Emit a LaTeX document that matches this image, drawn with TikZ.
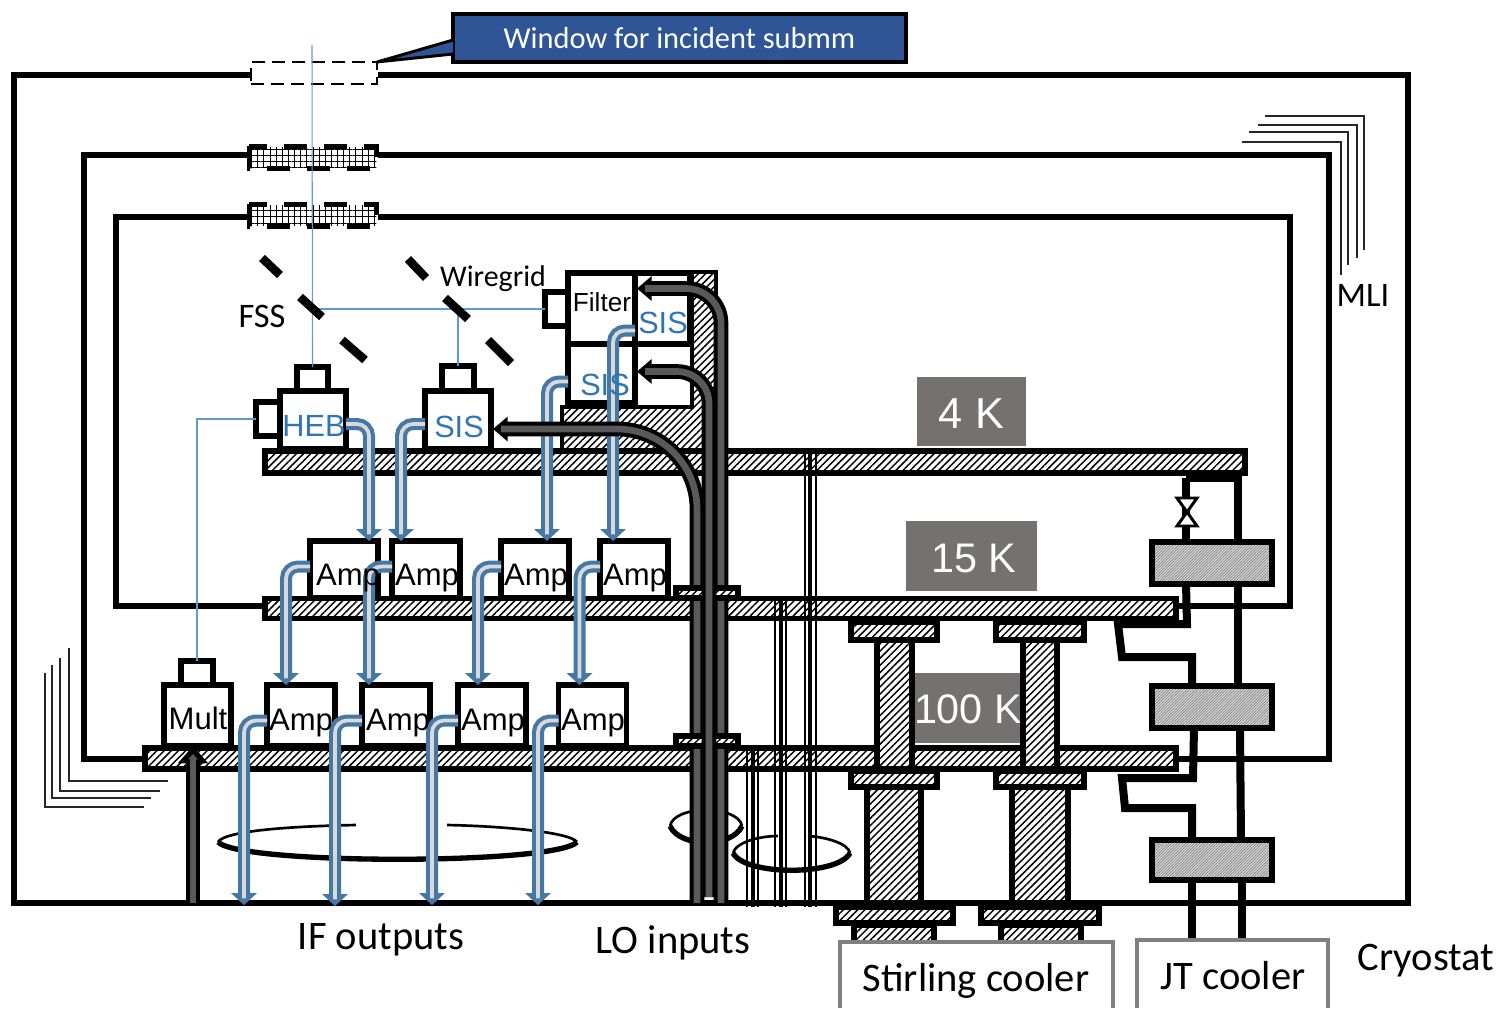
\documentclass[tikz,border=0pt]{standalone}
\usepackage{xcolor}
\usepackage{fontspec}
\setmainfont{Carlito}
\newfontfamily\arialfont{Liberation Sans}
\usetikzlibrary{arrows.meta, calc, patterns.meta}
\definecolor{beamblue}{RGB}{91,155,213}
\definecolor{sigblue}{RGB}{46,117,182}
\definecolor{ifblue}{RGB}{70,120,165}
\definecolor{ifgray}{RGB}{217,217,217}
\definecolor{lodark}{RGB}{89,89,89}
\definecolor{tempgray}{RGB}{118,113,113}
\definecolor{boxgray}{RGB}{128,128,128}
\definecolor{callblue}{RGB}{47,85,151}
\tikzset{
  hatch/.style={draw=black, line width=4.3pt, preaction={fill=white}, pattern={Lines[angle=45,distance=3.8pt,line width=1.1pt]}},
  plate/.style={rectangle, hatch, inner sep=0pt, outer sep=0pt},
  flange/.style={draw=black, line width=3.8pt, preaction={fill=white}, pattern={Lines[angle=45,distance=3.8pt,line width=1.1pt]}},
  hxbox/.style={rectangle, draw=black, line width=4.3pt, inner sep=0pt, outer sep=0pt,
    preaction={fill=gray!30}, pattern={Lines[angle=45,distance=1.5pt,line width=.5pt]}, pattern color=black!50,
    minimum width=90pt},
  box/.style={rectangle, draw=black, fill=white, line width=4.3pt, inner sep=0pt, outer sep=0pt},
  shield/.style={draw=black, line width=4.2pt},
  mli/.style={draw=black!85, line width=1.2pt},
  mirror/.style={draw=black, line width=6.4pt},
  beam/.style={draw=beamblue, line width=.8pt},
  pipe/.style={draw=black, line width=6pt},
  ifouter/.style={draw=ifblue, line width=9pt, rounded corners=9pt, -{Triangle[length=9pt,width=19pt]}},
  ifinner/.style={draw=ifgray, line width=2.8pt, rounded corners=9pt, shorten >=5pt},
  loouter/.style={draw=black, line width=11pt, -{Triangle[length=11pt,width=18pt]}},
  loinner/.style={draw=lodark, line width=5pt, shorten >=6pt},
  wire/.style={draw=black, line width=1.5pt},
  wirec/.style={draw=black, line width=3pt},
  tiethin/.style={draw=black, line width=2pt},
  tiethick/.style={draw=black, line width=4pt},
  amptext/.style={font=\arialfont\fontsize{23.3}{26}\selectfont, inner sep=0pt},
  sistext/.style={font=\arialfont\fontsize{23}{26}\selectfont, text=sigblue, inner sep=0pt},
  tempbox/.style={rectangle, fill=tempgray, inner sep=0pt, outer sep=0pt},
  temptext/.style={text=white, inner sep=0pt, font=\arialfont\fontsize{31}{34}\selectfont},
  bigtext/.style={font=\fontsize{30.4}{34}\selectfont, inner sep=0pt},
  midtext/.style={font=\fontsize{25.8}{30}\selectfont, inner sep=0pt},
}
\newcommand{\ifcable}[1]{\draw[ifouter] #1; \draw[ifinner] #1;}
\newcommand{\locable}[2]{\draw[loouter, rounded corners=#1] #2; \draw[loinner, rounded corners=#1] #2;}

\begin{document}
\begin{tikzpicture}[x=0.75pt, y=-0.75pt]
  \useasboundingbox (0,0) rectangle (1499,1008);

  % Shells
  \draw[shield] (250,75) -- (14,75) -- (14,903) -- (1408,903) -- (1408,75) -- (378,75);
  \draw[shield] (250,155) -- (84,155) -- (84,759) -- (145,759);
  \draw[shield] (378,155) -- (1329,155) -- (1329,759) -- (1176,759);
  \draw[shield] (250,217) -- (116,217) -- (116,606) -- (265,606);
  \draw[shield] (378,217) -- (1290,217) -- (1290,606) -- (1176,606);

  % MLI corners
  \draw[mli] (1265,116) -- (1364,116) -- (1364,250);
  \draw[mli] (1258,125) -- (1357,125) -- (1357,258);
  \draw[mli] (1249,132) -- (1348,132) -- (1348,265);
  \draw[mli] (1242,142) -- (1341,142) -- (1341,275);
  \draw[mli] (69,648) -- (69,781) -- (168,781);
  \draw[mli] (60,658) -- (60,791) -- (160,791);
  \draw[mli] (52,665) -- (52,798) -- (151,798);
  \draw[mli] (45,673) -- (45,807) -- (144,807);

  % Windows
  \node[rectangle, draw=black, fill=white, line width=2.2pt, dash pattern=on 10pt off 5pt, inner sep=0pt, outer sep=0pt,
    minimum width=94.5pt, minimum height=16.5pt] (win0) at (314,73) {};
  \foreach \wy/\wname in {157/win1, 215/win2}{
    \node[rectangle, preaction={fill=white}, inner sep=0pt, outer sep=0pt, minimum width=95pt, minimum height=15pt,
      pattern={Hatch[angle=0,distance=4.6pt,line width=.45pt]}] (\wname) at (313,\wy) {};
    \draw[draw=black, line width=3.75pt, dash pattern=on 17pt off 13pt] (249,\wy-11) rectangle (376,\wy+11);
  }

  % Callout
  \node[rectangle, draw=black, fill=callblue, text=white, line width=2.6pt, inner sep=0pt, outer sep=0pt,
    minimum width=339.75pt, minimum height=36pt, font=\fontsize{22.8}{26}\selectfont] (callout) at (679.5,38) {\raisebox{-.75pt}{Window for incident submm}};
  \draw[draw=black, fill=callblue, line width=2.2pt] ($(callout.west)+(0,2)$) -- (win0.north east) -- ($(callout.west)+(0,16)$);

  % Temperature tags
  \node[tempbox, minimum width=81.75pt, minimum height=51.75pt] (temp4) at (971.5,411.5) {};
  \node[tempbox, minimum width=98.25pt, minimum height=52.5pt] (temp15) at (971.5,556) {};
  \node[tempbox, minimum width=84pt, minimum height=52.5pt] (temp100) at (968,708) {};
  \node[temptext, font=\arialfont\fontsize{32.5}{36}\selectfont] (text4) at (971.5,413.5) {4 K};
  \node[temptext] (text15) at (974,558) {15 K};
  \node[temptext] (text100) at (968,709) {100 K};

  % Mixer support
  \draw[draw=black, line width=2.4pt, preaction={fill=white}, pattern={Lines[angle=45,distance=3.8pt,line width=1.1pt]}]
    (562,449) -- (562,407) -- (692,407) -- (692,272) -- (716,272) -- (716,449);

  % Plates
  \node[plate, minimum width=735pt, minimum height=16.5pt] (plate4) at (755,462) {};
  \node[plate, minimum width=683.25pt, minimum height=15pt] (plate15) at (720.5,608.5) {};
  \node[plate, minimum width=773.25pt, minimum height=15.75pt] (plate100) at (660.5,758.5) {};

  % Cold head columns
  \draw[flange] (851,622) rectangle (937,640);
  \draw[flange] (996,622) rectangle (1084,640);
  \draw[hatch] (877,640) rectangle (912,769);
  \draw[hatch] (1023,640) rectangle (1057,769);
  \draw[flange] (851,771) rectangle (937,787);
  \draw[flange] (996,771) rectangle (1084,787);
  \draw[hatch] (867,787) rectangle (921,903);
  \draw[hatch] (1012,787) rectangle (1068,903);
  \draw[flange] (836,907) rectangle (953,923);
  \draw[flange] (981,907) rectangle (1099,923);
  \draw[flange] (854,925) rectangle (934,945);
  \draw[flange] (1001,925) rectangle (1081,945);

  % Mixers
  \node[box, minimum width=49.5pt, minimum height=43.5pt] (heb) at (313,420) {};
  \node[box, minimum width=23.25pt, minimum height=18pt] (hebcap) at (312.5,379) {};
  \node[box, minimum width=18pt, minimum height=25.5pt] (hebside) at (268,419) {};
  \node[box, minimum width=49.5pt, minimum height=43.5pt] (sisc) at (458,420) {};
  \node[box, minimum width=24pt, minimum height=18.75pt] (siscap) at (458,378.5) {};
  \node[box, minimum width=41.25pt, minimum height=53.25pt] (sisa) at (662.5,308.5) {};
  \node[box, minimum width=50.25pt, minimum height=53.25pt] (filter) at (601.5,308.5) {};
  \node[box, minimum width=17.25pt, minimum height=25.5pt] (filterside) at (556.5,309) {};
  \node[box, minimum width=50.25pt, minimum height=44.25pt] (sisb) at (601.5,373.5) {};

  % Amplifiers
  \foreach \ax/\aname in {344/ampa, 426/ampb, 535/ampc, 634/ampd}
    \node[box, minimum width=51pt, minimum height=42.75pt] (\aname) at (\ax,569.5) {};
  \foreach \ax/\aname in {301/ampe, 396/ampf, 492/ampg, 592.5/amph}
    \node[box, minimum width=51pt, minimum height=45.75pt] (\aname) at (\ax,715.5) {};
  \node[box, minimum width=50.25pt, minimum height=45.75pt] (mult) at (197.5,715.5) {};
  \node[box, minimum width=24pt, minimum height=18pt] (multcap) at (197,673) {};

  % Beams
  \coordinate (beamtop) at (312,45);
  \coordinate (beamhit) at (312,309);
  \draw[beam] (beamtop) -- (hebcap.north);
  \draw[beam] (filterside.west) -- (beamhit);
  \draw[beam] (siscap.north) -- (siscap.north |- beamhit);
  \draw[beam] (hebside.west) -| (multcap.north);

  % FSS and wire grid
  \draw[mirror] (262,258) -- (280,275) (300,297) -- (322,317) (342,340) -- (365,360);
  \draw[mirror] (408,259) -- (426,278) (445,298) -- (468,319) (488,340) -- (511,363);

  % Cable ties
  \draw[tiethin] (218,842) .. controls (225,830) and (300,826) .. (356,825);
  \draw[tiethin] (447,825) .. controls (500,826) and (570,832) .. (577,842);
  \draw[tiethick] (218,842) .. controls (240,865) and (555,865) .. (577,842);
  \draw[tiethin] (670,826) .. controls (672,815) and (690,810) .. (706,810) .. controls (722,810) and (740,815) .. (742,826);
  \draw[tiethick] (670,826) .. controls (680,848) and (732,848) .. (742,826);

  % Wires
  \foreach \wa/\wb/\wc/\wtop in {747/753/758/748, 775/781/786/600, 805/810/816/451}{
    \draw[wire] (\wa,\wtop) -- (\wa,907);
    \draw[wirec] (\wb,\wtop) -- (\wb,907);
    \draw[wire] (\wc,\wtop) -- (\wc,907);
  }
  \draw[tiethin] (733,853) .. controls (736,842) and (760,836) .. (778,836);
  \draw[tiethin] (808,836) .. controls (825,837) and (848,843) .. (850,853);
  \draw[tiethick] (733,853) .. controls (745,876) and (838,876) .. (850,853);

  % IF cables
  \ifcable{($(heb.east)+(0,4)$) -| ($(ampa.north)+(25,0)$)}
  \ifcable{($(sisc.west)+(0,4)$) -| ($(ampb.north)+(-25,0)$)}
  \ifcable{($(sisb.west)+(0,8)$) -| ($(ampc.north)+(12,0)$)}
  \ifcable{($(sisa.west)+(0,22)$) -| ($(ampd.north)+(-21,0)$)}
  \ifcable{($(ampa.west)+(0,-3)$) -| ($(ampe.north)+(-15,0)$)}
  \ifcable{($(ampb.west)+(0,-3)$) -| ($(ampf.north)+(-27,0)$)}
  \ifcable{($(ampc.west)+(0,-3)$) -| ($(ampg.north)+(-14,0)$)}
  \ifcable{($(ampd.west)+(0,-3)$) -| ($(amph.north)+(-13,0)$)}
  \coordinate (ifa) at (244,905);
  \coordinate (ifb) at (335,906);
  \coordinate (ifc) at (432,905);
  \coordinate (ifd) at (538,905);
  \ifcable{($(ampe.west)+(0,5)$) -| (ifa)}
  \ifcable{($(ampf.west)+(0,5)$) -| (ifb)}
  \ifcable{($(ampg.west)+(0,5)$) -| (ifc)}
  \ifcable{($(amph.west)+(0,5)$) -| (ifd)}

  % LO cables
  \coordinate (loa) at (697,903);
  \coordinate (lob) at (709,897);
  \coordinate (loc) at (721,903);
  \coordinate (multin) at (193,903);
  \locable{60pt}{(loa) |- ($(sisc.east)+(2,9)$)}
  \locable{26pt}{(loc) |- ($(filter.east)+(2,-20)$)}
  \draw[flange] (676,588) rectangle (738,598);
  \draw[flange] (676,736) rectangle (738,746);
  \locable{24pt}{(lob) |- ($(sisb.east)+(2,-2)$)}
  \draw[draw=black, line width=10pt, -{Triangle[length=13pt,width=22pt]}] (multin) -- (multin |- mult.south);
  \draw[draw=lodark, line width=4.5pt, shorten >=6pt, -{Triangle[length=4pt,width=7pt]}] (multin) -- (multin |- mult.south);

  % JT pipes
  \coordinate (pipea) at (1186,478);
  \coordinate (pipeb) at (1238,478);
  \coordinate (jta) at (1192,942);
  \coordinate (jtb) at (1242,942);
  \node[hxbox, minimum height=31.5pt] (hxa) at (1212,563) {};
  \node[hxbox, minimum height=31.5pt] (hxb) at (1212,707) {};
  \node[hxbox, minimum height=30pt] (hxc) at (1212,860) {};
  \draw[pipe] (pipea) -- (pipea |- hxa.north);
  \draw[pipe] (pipea) -- (pipeb) -- (pipeb |- hxa.north);
  \draw[pipe] (pipea |- hxa.south) -- (1187,624) -- (1118,624) -- (1122,657) -- (1192,657) -- (1192,686);
  \draw[pipe] (pipeb |- hxa.south) -- (1238,686);
  \draw[pipe] (1194,728) -- (1193,778) -- (1122,778) -- (1125,808) -- (1192,808) -- (1192,840);
  \draw[pipe] (1240,728) -- (1241,840);
  \draw[pipe] (jta |- hxc.south) -- (jta);
  \draw[pipe] (jtb |- hxc.south) -- (jtb);
  \draw[draw=black, fill=white, line width=2.2pt] (1177,498) -- (1197,498) -- (1177,526) -- (1197,526) -- cycle;

  % Coolers
  \draw[draw=boxgray, fill=white, line width=3pt] (840,1008) -- (840,942) -- (1113,942) -- (1113,1008);
  \draw[draw=boxgray, fill=white, line width=3pt] (1137,1008) -- (1137,940) -- (1328,940) -- (1328,1008);
  \node[bigtext] (stirling) at (976,981) {Stirling cooler};
  \node[bigtext] (jt) at (1233,976) {JT cooler};

  % Labels
  \node[amptext] (texta) at (348,578) {Amp};
  \node[amptext] (textb) at (427,578) {Amp};
  \node[amptext] (textc) at (536,578) {Amp};
  \node[amptext] (textd) at (635,578) {Amp};
  \node[amptext] (texte) at (301,723) {Amp};
  \node[amptext] (textf) at (398,723) {Amp};
  \node[amptext] (textg) at (493,723) {Amp};
  \node[amptext] (texth) at (593,723) {Amp};
  \node[amptext] (textm) at (198,718) {Mult};
  \node[amptext, font=\arialfont\fontsize{19.6}{22}\selectfont] (textfil) at (602,302) {Filter};
  \node[sistext] (sisatext) at (663,323) {SIS};
  \node[sistext] (sisbtext) at (605,385) {SIS};
  \node[sistext] (sisctext) at (459,427) {SIS};
  \node[sistext] (hebtext) at (314,426) {HEB};
  \node[midtext] (fss) at (262,316) {FSS};
  \node[midtext, font=\fontsize{22.5}{26}\selectfont] (wiregrid) at (493,279) {Wiregrid};
  \node[midtext] (mlitext) at (1363,295) {MLI};
  \node[bigtext] (ifout) at (381,940) {IF outputs};
  \node[bigtext] (loin) at (673,943) {LO inputs};
  \node[bigtext] (cryostat) at (1426,961) {Cryostat};
\end{tikzpicture}
\end{document}
